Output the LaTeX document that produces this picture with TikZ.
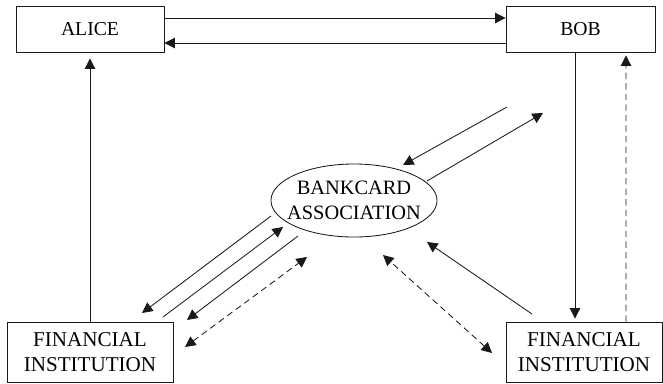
\documentclass[tikz,border=0pt]{standalone}
\usepackage{fontspec}
\setmainfont{Liberation Serif}
\usetikzlibrary{shapes.geometric, arrows.meta, calc}
\tikzset{
  pay box/.style={
    rectangle, draw=black!90, line width=0.6pt,
    minimum height=1.15cm, align=center,
    font=\fontsize{14}{18}\selectfont, inner sep=2pt
  },
  pay bank/.style={
    pay box, minimum height=1.5cm, font=\fontsize{15}{18}\selectfont
  },
  pay assoc/.style={
    ellipse, draw=black!90, line width=0.6pt, align=center,
    minimum width=4.15cm, minimum height=1.825cm,
    inner xsep=-6.6pt, inner ysep=0pt,
    font=\fontsize{14.5}{18}\selectfont
  },
  pay arrow/.style={
    -{Triangle[length=7.5pt, width=7.5pt]}, line width=0.6pt, draw=black!90
  },
  pay dashed/.style={
    pay arrow, dash pattern=on 4.5pt off 3pt
  },
  pay both/.style={
    pay dashed, {Triangle[length=7.5pt, width=7.5pt]}-{Triangle[length=7.5pt, width=7.5pt]}
  }
}

\begin{document}
\begin{tikzpicture}[x=0.025cm, y=-0.025cm]
  \useasboundingbox (0,0) rectangle (663,383);

  \node (alice) [pay box, minimum width=3.7cm] at (90,29) {ALICE};
  \node (bob) [pay box, minimum width=3.725cm] at (580.5,29) {BOB};
  \node (ba) [pay assoc] at (354,200.5) {BANKCARD\\ASSOCIATION};
  \node (fil) [pay bank, minimum width=4.15cm] at (90,352) {FINANCIAL\\INSTITUTION};
  \node (fir) [pay bank, minimum width=3.9cm] at (584,352) {FINANCIAL\\INSTITUTION};

  % alice <-> bob
  \draw [pay arrow] ($(alice.east)+(0,-11)$) -- ($(bob.west)+(0,-11)$);
  \draw [pay arrow] ($(bob.west)+(0,14)$) -- ($(alice.east)+(0,14)$);

  % verticals
  \draw [pay arrow, shorten >=0.15cm] (fil.north) -- (alice.south);
  \draw [pay arrow, shorten >=0.075cm] ($(bob.south)+(-5.5,0)$) -- ($(fir.north)+(-9,0)$);
  \draw [pay dashed, shorten >=0.075cm] ($(fir.north)+(42,0)$) -- ($(bob.south)+(45.5,0)$);

  % left side
  \coordinate (l1a) at (271,216);  \coordinate (l1b) at (142,313);
  \coordinate (l2a) at (163,317);  \coordinate (l2b) at (283,227);
  \coordinate (l3a) at (298,236);  \coordinate (l3b) at (187,320);
  \coordinate (l4a) at (185,347);  \coordinate (l4b) at (307,257);
  \draw [pay arrow] (l1a) -- (l1b);
  \draw [pay arrow] (l2a) -- (l2b);
  \draw [pay arrow] (l3a) -- (l3b);
  \draw [pay both] (l4a) -- (l4b);

  % right side
  \coordinate (r1a) at (427,181);  \coordinate (r1b) at (543,113);
  \coordinate (r2a) at (507,107);  \coordinate (r2b) at (403,165);
  \coordinate (r3a) at (532,314);  \coordinate (r3b) at (427,242);
  \coordinate (r4a) at (492,353);  \coordinate (r4b) at (383,255);
  \draw [pay arrow] (r1a) -- (r1b);
  \draw [pay arrow] (r2a) -- (r2b);
  \draw [pay arrow] (r3a) -- (r3b);
  \draw [pay both] (r4a) -- (r4b);
\end{tikzpicture}
\end{document}
